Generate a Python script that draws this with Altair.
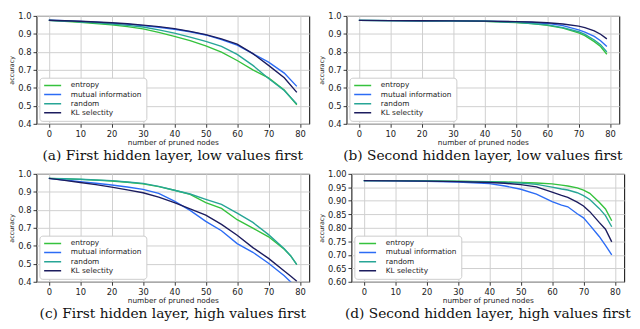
import altair as alt
import pandas as pd

series_names = ["entropy", "mutual information", "random", "KL selectity"]
series_colors = ["#35c23d", "#2c6cf5", "#27a596", "#1c1c5e"]

# (a) First hidden layer, low values first
a_x = [0, 5, 10, 15, 20, 25, 30, 35, 40, 45, 50, 55, 60, 65, 70, 75, 79]
a_entropy = [.975, .970, .964, .957, .950, .940, .928, .908, .886, .862, .833, .798, .752, .700, .655, .588, .505]
a_mutual = [.976, .973, .969, .965, .960, .954, .946, .937, .926, .912, .894, .868, .838, .790, .743, .682, .608]
a_random = [.975, .972, .967, .961, .955, .947, .938, .922, .904, .882, .858, .830, .786, .725, .652, .585, .510]
a_kl = [.976, .973, .970, .966, .962, .956, .949, .940, .929, .914, .896, .872, .843, .790, .725, .656, .575]

# (b) Second hidden layer, low values first
b_x = [0, 10, 20, 30, 40, 50, 55, 60, 65, 70, 72, 75, 77, 79]
b_entropy = [.975, .974, .973, .972, .970, .963, .957, .948, .932, .906, .890, .857, .830, .787]
b_mutual = [.975, .974, .973, .972, .971, .967, .963, .958, .946, .922, .910, .886, .862, .830]
b_random = [.975, .974, .973, .972, .970, .964, .958, .950, .935, .912, .897, .866, .840, .800]
b_kl = [.975, .974, .973, .972, .971, .968, .966, .962, .955, .943, .935, .917, .898, .872]

# (c) First hidden layer, high values first
c_x = [0, 5, 10, 15, 20, 25, 30, 35, 40, 45, 50, 55, 60, 65, 70, 75, 77, 79]
c_entropy = [.975, .972, .969, .965, .960, .953, .944, .929, .909, .886, .840, .808, .745, .698, .650, .581, .545, .495]
c_mutual = [.975, .966, .957, .948, .938, .927, .914, .891, .848, .797, .736, .684, .612, .564, .503, .434, .400, .370]
c_random = [.975, .973, .970, .966, .962, .955, .947, .930, .909, .888, .858, .830, .782, .730, .662, .584, .545, .495]
c_kl = [.975, .964, .952, .940, .926, .911, .895, .871, .840, .805, .771, .719, .659, .590, .530, .460, .432, .403]

# (d) Second hidden layer, high values first
d_x = [0, 10, 20, 30, 40, 45, 50, 55, 60, 63, 65, 68, 70, 72, 75, 77, 79]
d_entropy = [.975, .975, .974, .973, .971, .970, .968, .966, .963, .958, .955, .948, .940, .928, .895, .870, .826]
d_mutual = [.975, .974, .972, .970, .964, .955, .943, .925, .897, .884, .878, .852, .837, .810, .768, .735, .700]
d_random = [.975, .975, .974, .972, .970, .968, .966, .961, .951, .944, .940, .930, .919, .905, .872, .845, .804]
d_kl = [.975, .974, .973, .971, .968, .965, .960, .952, .932, .920, .913, .895, .881, .860, .820, .795, .748]

captions = [
    "(a) First hidden layer, low values first",
    "(b) Second hidden layer, low values first",
    "(c) First hidden layer, high values first",
    "(d) Second hidden layer, high values first",
]

x_ticks = [0, 10, 20, 30, 40, 50, 60, 70, 80]
y_ticks_1 = [0.4, 0.5, 0.6, 0.7, 0.8, 0.9, 1.0]
y_ticks_2 = [0.60, 0.65, 0.70, 0.75, 0.80, 0.85, 0.90, 0.95, 1.00]


def make_df(xs, ent, mi, rnd, kl):
    rows = []
    for name, vals in zip(series_names, [ent, mi, rnd, kl]):
        for xv, yv in zip(xs, vals):
            rows.append({"x": xv, "y": yv, "series": name})
    return pd.DataFrame(rows)


W, H = 278, 110


def panel(df, ydom, yticks, yfmt, caption):
    return alt.Chart(df).mark_line(clip=True, strokeWidth=1.4).encode(
        x=alt.X("x:Q",
                scale=alt.Scale(domain=[-3.95, 82.95], nice=False, zero=False),
                axis=alt.Axis(values=x_ticks, title="number of pruned nodes", format="d")),
        y=alt.Y("y:Q",
                scale=alt.Scale(domain=ydom, nice=False, zero=False),
                axis=alt.Axis(values=yticks, format=yfmt, title="accuracy")),
        color=alt.Color("series:N",
                        scale=alt.Scale(domain=series_names, range=series_colors),
                        legend=alt.Legend(title=None, orient="bottom-left", offset=3,
                                          fillColor="white", strokeColor="#cccccc",
                                          cornerRadius=3, padding=4,
                                          labelFontSize=7.5, labelFont="DejaVu Sans",
                                          labelColor="#222222",
                                          symbolType="stroke", symbolStrokeWidth=1.6,
                                          symbolSize=300, clipHeight=7.8,
                                          rowPadding=0.3, labelOffset=9)),
    ).properties(
        width=W, height=H,
        title=alt.TitleParams(caption, orient="bottom", font="DejaVu Serif",
                              fontSize=14, fontWeight="normal", color="#111111",
                              anchor="middle", offset=3),
    )


pa = panel(make_df(a_x, a_entropy, a_mutual, a_random, a_kl), [0.4, 1.0], y_ticks_1, ".1f", captions[0])
pb = panel(make_df(b_x, b_entropy, b_mutual, b_random, b_kl), [0.4, 1.0], y_ticks_1, ".1f", captions[1])
pc = panel(make_df(c_x, c_entropy, c_mutual, c_random, c_kl), [0.4, 1.0], y_ticks_1, ".1f", captions[2])
pd_ = panel(make_df(d_x, d_entropy, d_mutual, d_random, d_kl), [0.6, 1.0], y_ticks_2, ".2f", captions[3])

row1 = alt.hconcat(pa, pb, spacing=8).resolve_scale(color="independent")
row2 = alt.hconcat(pc, pd_, spacing=8).resolve_scale(color="independent")

chart = alt.vconcat(row1, row2, spacing=6).resolve_scale(color="independent").properties(
    padding=0
).configure_view(
    stroke="black", strokeWidth=1
).configure_axis(
    domain=False,
    grid=True, gridColor="#cfcfcf", gridWidth=1,
    tickColor="black", tickSize=3.5, tickWidth=0.8,
    labelFont="DejaVu Sans", labelFontSize=8.5, labelColor="#222222", labelPadding=2,
    titleFont="DejaVu Sans", titleFontWeight="normal", titleColor="#222222",
).configure_axisX(
    titleFontSize=7.5, titlePadding=1
).configure_axisY(
    titleFontSize=6.5, titlePadding=3
)

chart.save("out.html", embed_options={"renderer": "svg", "actions": False})
